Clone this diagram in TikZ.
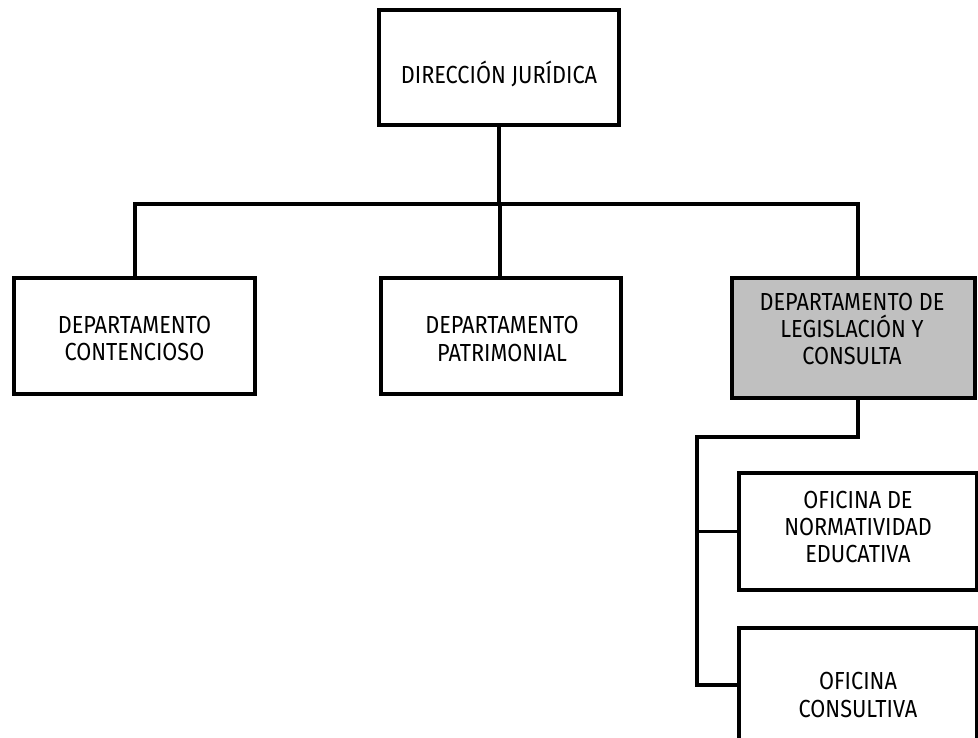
\documentclass[tikz,border=0pt]{standalone}
\usepackage{fontspec}
\setmainfont{Fira Sans}[FakeStretch=0.88]
\definecolor{boxgray}{RGB}{192,192,192}
\begin{document}
\begin{tikzpicture}[x=0.75pt,y=-0.75pt,
  box/.style={draw=black,line width=2.3pt,fill=white,inner sep=0pt,outer sep=0pt},
  graybox/.style={box,fill=boxgray},
  txt/.style={inner sep=0pt,align=center,font=\fontsize{18.5}{20.5}\selectfont},
  link/.style={draw=black,line width=2.3pt,line join=miter}]
\useasboundingbox (0,0) rectangle (978,738);
% boxes
\node[box,minimum width=180pt,minimum height=86.25pt] (dir) at (499,67.5) {};
\node[box,minimum width=180.75pt,minimum height=87pt] (cont) at (134.5,336) {};
\node[box,minimum width=180pt,minimum height=87pt] (patr) at (501,336) {};
\node[graybox,minimum width=182.25pt,minimum height=90pt] (leg) at (853.5,338) {};
\node[box,minimum width=178.5pt,minimum height=87.75pt] (of1) at (858,531.5) {};
\node[box,minimum width=178.5pt,minimum height=100.5pt] (of2) at (858,695) {};
% texts
\node[txt] (dirT) at (499,74) {DIRECCIÓN JURÍDICA};
\node[txt] (contT) at (134.5,338.5) {DEPARTAMENTO\\CONTENCIOSO};
\node[txt] (patrT) at (502,339) {DEPARTAMENTO\\PATRIMONIAL};
\node[txt] (legT) at (852,329) {DEPARTAMENTO DE\\LEGISLACIÓN Y\\CONSULTA};
\node[txt] (of1T) at (858,527) {OFICINA DE\\NORMATIVIDAD\\EDUCATIVA};
\node[txt] (of2T) at (858,695) {OFICINA\\CONSULTIVA};
% junction points
\coordinate (busL) at (135,204);
\coordinate (busM) at (500,204);
\coordinate (busR) at (858,204);
\coordinate (j1) at (858,437);
\coordinate (j2) at (697,437);
\coordinate (j3) at (697,685);
% connectors
\draw[link] (dir.south) -- (dir.south |- busM);
\draw[link] (busL |- cont.north) -- (busL) -- (busR) -- (busR |- leg.north);
\draw[link] (busM) -- (busM |- patr.north);
\draw[link] (j1 |- leg.south) -- (j1) -- (j2) -- (j3) -- (j3 -| of2.west);
\draw[link] (j2 |- of1.west) -- (of1.west);
\end{tikzpicture}
\end{document}
